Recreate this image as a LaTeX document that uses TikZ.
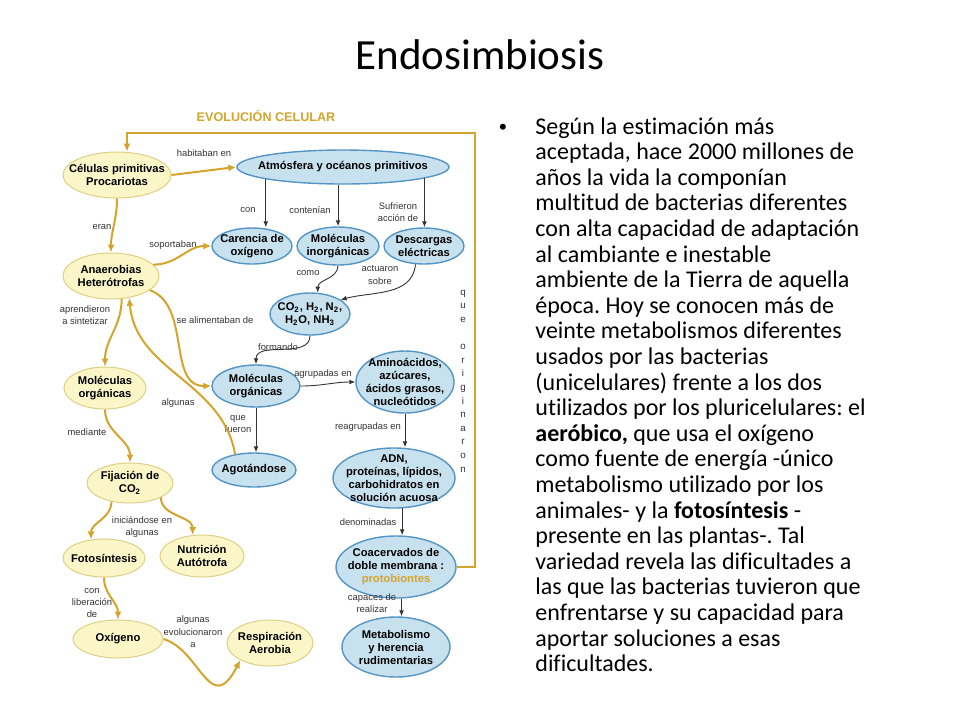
\documentclass[tikz,border=0pt]{standalone}
\usepackage{fontspec}
\setmainfont{Carlito}[Ligatures=NoCommon]
\newfontfamily\arialfont{Liberation Sans}
\usepackage{tikz}
\usetikzlibrary{shapes.geometric, arrows.meta}
\frenchspacing

\definecolor{cellfill}{HTML}{FBF6C8}
\definecolor{celldraw}{HTML}{DDD084}
\definecolor{envfill}{HTML}{C8E1EF}
\definecolor{envdraw}{HTML}{5495C4}
\definecolor{evogold}{HTML}{D4A42C}
\definecolor{linkgrey}{HTML}{333333}

\begin{document}
\begin{tikzpicture}[x=0.5pt, y=-0.5pt,
    cell/.style={ellipse, draw=celldraw, line width=0.5pt, fill=cellfill, inner sep=-5pt, align=center, font=\arialfont\bfseries\fontsize{5.6}{6.5}\selectfont},
    env/.style={ellipse, draw=envdraw, line width=0.7pt, fill=envfill, inner sep=-5pt, align=center, font=\arialfont\bfseries\fontsize{5.6}{6.5}\selectfont},
    verb/.style={align=center, inner sep=0pt, text=linkgrey, font=\arialfont\fontsize{4.7}{6.2}\selectfont},
    goldlink/.style={draw=evogold, line width=1pt, -{Latex[length=4pt,width=3.6pt]}},
    greylink/.style={draw=linkgrey, line width=0.45pt, -{Latex[length=3pt,width=2.4pt]}}]
    \useasboundingbox (0,0) rectangle (960,720);

    \node[anchor=base, font=\fontsize{21.5}{24}\selectfont](titulo) at (480,69) {Endosimbiosis};

    \node[text=evogold, font=\arialfont\bfseries\fontsize{6.3}{7}\selectfont](evo-title) at (266,116) {EVOLUCIÓN CELULAR};

    \node[cell, minimum width=54pt, minimum height=23pt](cel) at (117,175) {Células primitivas\\Procariotas};

    \node[env, minimum width=105pt, minimum height=17pt](atm) at (343,167) {Atmósfera y océanos primitivos};

    \node[env, minimum width=40pt, minimum height=18pt](caren) at (252,246) {Carencia de\\oxígeno};

    \node[env, minimum width=41pt, minimum height=19pt](inorg) at (338,246) {Moléculas\\inorgánicas};

    \node[env, minimum width=40pt, minimum height=18pt](desc) at (424,246) {Descargas\\eléctricas};

    \node[env, minimum width=40pt, minimum height=21pt](gases) at (310,314) {CO\textsubscript{2}, H\textsubscript{2}, N\textsubscript{2},\\H\textsubscript{2}O, NH\textsubscript{3}};

    \node[env, minimum width=44pt, minimum height=21pt](morgb) at (256,386) {Moléculas\\orgánicas};

    \node[env, minimum width=49pt, minimum height=31pt](amino) at (405,382) {Aminoácidos,\\azúcares,\\ácidos grasos,\\nucleótidos};

    \node[env, minimum width=42pt, minimum height=17pt](agot) at (254,470) {Agotándose};

    \node[env, minimum width=61pt, minimum height=30pt](adn) at (394,478) {ADN,\\proteínas, lípidos,\\carbohidratos en\\solución acuosa};

    \node[env, minimum width=60pt, minimum height=31pt](coac) at (396,567) {Coacervados de\\doble membrana :\\\textcolor{evogold}{protobiontes}};

    \node[env, minimum width=54pt, minimum height=30pt](metab) at (396,647) {Metabolismo\\y herencia\\rudimentarias};

    \node[cell, minimum width=48pt, minimum height=23pt](anae) at (111,276) {Anaerobias\\Heterótrofas};

    \node[cell, minimum width=41pt, minimum height=21pt](morgy) at (105,388) {Moléculas\\orgánicas};

    \node[cell, minimum width=43pt, minimum height=20pt](fij) at (130,483) {Fijación de\\CO\textsubscript{2}};

    \node[cell, minimum width=41pt, minimum height=19pt](foto) at (104,558) {Fotosíntesis};

    \node[cell, minimum width=42pt, minimum height=21pt](nutri) at (202,556) {Nutrición\\Autótrofa};

    \node[cell, minimum width=45pt, minimum height=19pt](oxi) at (118,639) {Oxígeno};

    \node[cell, minimum width=43pt, minimum height=23pt](resp) at (270,643) {Respiración\\Aerobia};

    \node[verb](lbl-habitaban) at (204,153) {habitaban en};
    \node[verb](lbl-con) at (248,210) {con};
    \node[verb](lbl-contenian) at (310,210) {contenían};
    \node[verb](lbl-sufrieron) at (398,212) {Sufrieron\\acción de};
    \node[verb](lbl-eran) at (102,227) {eran};
    \node[verb](lbl-soportaban) at (173,245) {soportaban};
    \node[verb](lbl-como) at (308,273) {como};
    \node[verb](lbl-actuaron) at (380,275) {actuaron\\sobre};
    \node[verb](lbl-aprendieron) at (85,315) {aprendieron\\a sintetizar};
    \node[verb](lbl-alimentaban) at (215,320) {se alimentaban de};
    \node[verb](lbl-formando) at (278,347) {formando};
    \node[verb](lbl-agrupadas) at (323,374) {agrupadas en};
    \node[verb](lbl-algunas) at (178,403) {algunas};
    \node[verb](lbl-fueron) at (238,424) {que\\fueron};
    \node[verb](lbl-mediante) at (87,432) {mediante};
    \node[verb](lbl-reagrupadas) at (368,427) {reagrupadas en};
    \node[verb](lbl-iniciandose) at (142,527) {iniciándose en\\algunas};
    \node[verb](lbl-liberacion) at (92,603) {con\\liberación\\de};
    \node[verb](lbl-evolucionaron) at (193,632) {algunas\\evolucionaron\\a};
    \node[verb](lbl-denominadas) at (368,522) {denominadas};
    \node[verb](lbl-capaces) at (372,603) {capaces de\\realizar};
    \node[verb, font=\arialfont\fontsize{4.9}{6.8}\selectfont](originaron) at (463,381) {q\\u\\e\\[6.8pt]o\\r\\i\\g\\i\\n\\a\\r\\o\\n};

    \node[anchor=base, font=\arialfont\fontsize{11}{12}\selectfont](bullet) at (503,134) {•};

    \node[anchor=north west, align=left, inner sep=0pt, font=\fontsize{12}{12.8}\selectfont](estimacion) at (535,117) {Según la estimación más\\
    aceptada, hace 2000 millones de\\
    años la vida la componían\\
    multitud de bacterias diferentes\\
    con alta capacidad de adaptación\\
    al cambiante e inestable\\
    ambiente de la Tierra de aquella\\
    época. Hoy se conocen más de\\
    veinte metabolismos diferentes\\
    usados por las bacterias\\
    (unicelulares) frente a los dos\\
    utilizados por los pluricelulares: el\\
    \textbf{aeróbico,} que usa el oxígeno\\
    como fuente de energía -único\\
    metabolismo utilizado por los\\
    animales- y la \textbf{fotosíntesis} -\\
    presente en las plantas-. Tal\\
    variedad revela las dificultades a\\
    las que las bacterias tuvieron que\\
    enfrentarse y su capacidad para\\
    aportar soluciones a esas\\
    dificultades.};

    \coordinate (loop-right) at (475,133);
    \coordinate (loop-left) at (127,133);

    \draw[goldlink] (coac.east) -| (loop-right) -- (loop-left) -- (loop-left |- cel.north);
    \draw[goldlink] (cel.east) -- (atm.west);
    \draw[goldlink] (cel.south) to[out=-90, in=90] (anae.north);
    \draw[goldlink] (anae.15) to[out=0, in=180] (caren.west);
    \draw[goldlink] (anae.-65) to[out=-90, in=90] (morgy.north);
    \draw[goldlink] (anae.-20) to[out=-20, in=180] (morgb.west);
    \draw[goldlink] (agot.140) to[out=100, in=-85] (anae.-50);
    \draw[goldlink] (morgy.south) to[out=-90, in=90] (fij.north);
    \draw[goldlink] (fij.-135) to[out=-90, in=90] (foto.125);
    \draw[goldlink] (fij.-25) to[out=-90, in=90] (nutri.114);
    \draw[goldlink] (foto.south) to[out=-90, in=90] (oxi.north);
    \draw[goldlink] (oxi.east) .. controls +(37,11) and +(-30,58) .. (resp.-150);

    \draw[greylink] (atm.-171) -- (atm.-171 |- caren.north);
    \draw[greylink] (inorg.north |- atm.south) -- (inorg.north);
    \draw[greylink] (atm.-8) -- (atm.-8 |- desc.north);
    \draw[greylink] (inorg.south) to[out=-90, in=90] (gases.70);
    \draw[greylink] (desc.-115) to[out=-95, in=15] (gases.25);
    \draw[greylink] (gases.south) to[out=-90, in=90] (morgb.north);
    \draw[greylink] (morgb.east) to[out=0, in=180] (amino.west);
    \draw[greylink] (morgb.south) -- (morgb.south |- agot.north);
    \draw[greylink] (amino.south) -- (amino.south |- adn.north);
    \draw[greylink] (adn.-75) -- (adn.-75 |- coac.north);
    \draw[greylink] (coac.-80) -- (coac.-80 |- metab.north);
\end{tikzpicture}
\end{document}
